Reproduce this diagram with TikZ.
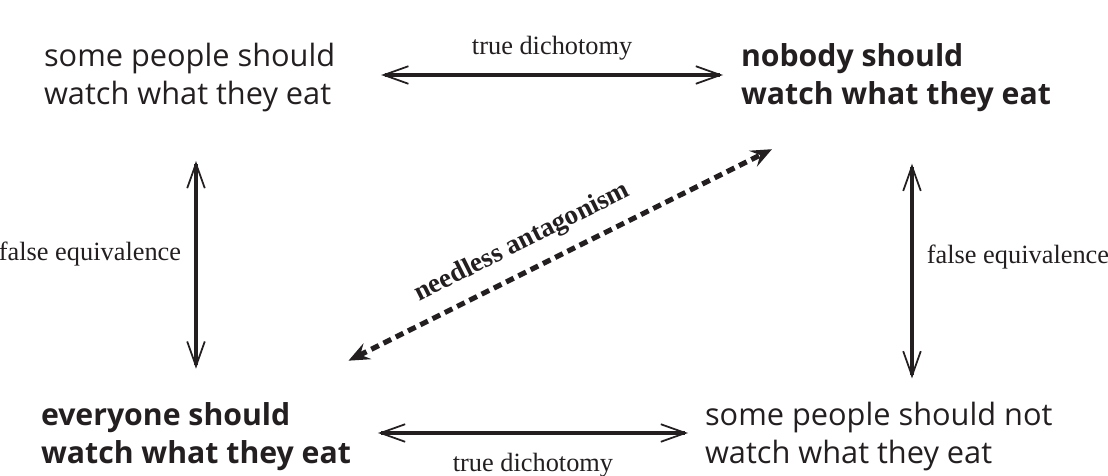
\documentclass[tikz,border=0pt]{standalone}
\usepackage{fontspec}
\setmainfont{Liberation Serif}
\setsansfont{Open Sans}
\usetikzlibrary{arrows.meta, positioning}
\definecolor{cink}{HTML}{231F20}
\tikzset{
  every picture/.style={line width=2.3pt},
  claim/.style={font=\sffamily\fontsize{17.5}{21.5}\selectfont, text=cink, align=left, inner sep=0pt},
  strong/.style={claim, font=\sffamily\bfseries\fontsize{17.2}{21.5}\selectfont},
  link/.style={{Straight Barb[length=14pt, width=10pt, line width=1pt]}-{Straight Barb[length=14pt, width=10pt, line width=1pt]}, draw=cink},
  fightlink/.style={{Stealth[length=12pt, width=10pt, inset=4.5pt]}-{Stealth[length=12pt, width=10pt, inset=4.5pt]}, draw=cink, line width=2.9pt, dash pattern=on 4.8pt off 3pt},
  lbl/.style={font=\fontsize{15}{18}\selectfont, text=cink},
}
\begin{document}
\begin{tikzpicture}[x=0.02cm, y=-0.02cm]
  \useasboundingbox (0,0) rectangle (1108,476);
  % the four claims
  \node[claim, anchor=west] (some) at (42,77.7) {some people should\\watch what they eat};
  \node[strong, anchor=west] (nobody) at (739,77.7) {nobody should\\watch what they eat};
  \node[strong, anchor=west] (everyone) at (39,436.7) {everyone should\\watch what they eat};
  \node[claim, anchor=west] (somenot) at (703,436.7) {some people should not\\watch what they eat};
  % true dichotomies
  \draw[link] ([xshift=0.88cm, yshift=0.054cm]some.east) -- node[lbl, above=4pt] {true dichotomy} ([xshift=-0.32cm, yshift=0.054cm]nobody.west);
  \draw[link] ([xshift=0.5cm, yshift=0.074cm]everyone.east) -- node[lbl, below=7pt] {true dichotomy} ([xshift=-0.3cm, yshift=0.074cm]somenot.west);
  % false equivalences
  \draw[link, shorten <=0.94cm, shorten >=0.64cm] (everyone.north |- some.south) -- node[lbl, left=4pt, pos=0.49] {false equivalence} (everyone.north);
  \draw[link, shorten <=1cm, shorten >=0.44cm] ([xshift=0.32cm]nobody.south) -- node[lbl, right=4pt, pos=0.5] {false equivalence} ([xshift=0.32cm]nobody.south |- somenot.north);
  % needless antagonism
  \draw[fightlink] ([xshift=-0.09cm, yshift=0.8cm]everyone.north east) -- node[lbl, font=\bfseries\fontsize{15.5}{18}\selectfont, sloped, above=4pt, pos=0.44] {needless antagonism} ([xshift=0.66cm, yshift=-0.71cm]nobody.south west);
\end{tikzpicture}
\end{document}
